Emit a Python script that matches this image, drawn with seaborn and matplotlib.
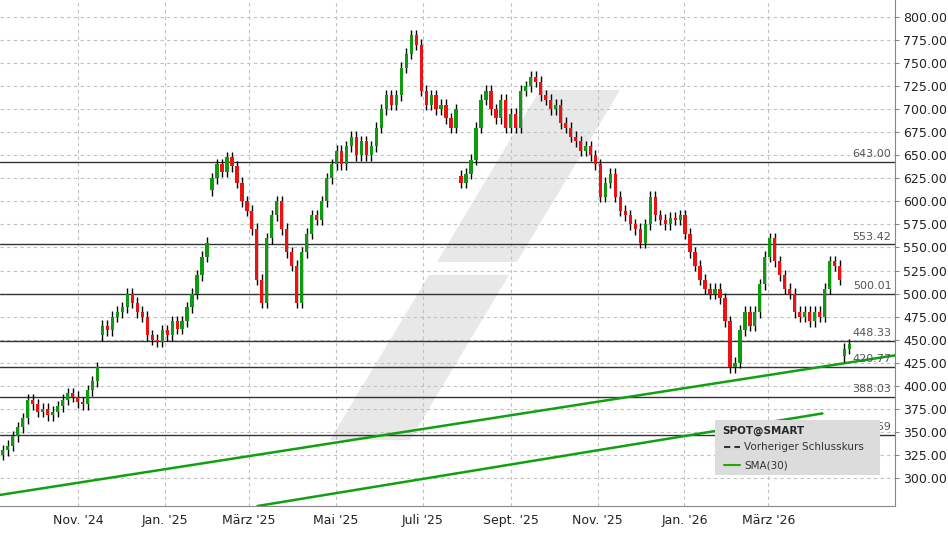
import matplotlib
matplotlib.use("Agg")
import matplotlib.pyplot as plt
import matplotlib.dates as mdates
from matplotlib.patches import Polygon, Rectangle
from matplotlib.lines import Line2D
import seaborn as sns
import pandas as pd
import numpy as np

sns.set_style("white")
plt.rcParams['font.family'] = ['DejaVu Sans']

start_date = "2024-09-09"
closes = [330, 335, 345, 355, 365, 385, 380, 372, 375, 368, 372, 378, 385, 392, 388, 382, 380, 395, 405, 420,
          465, 460, 475, 480, 485, 500, 490, 480, 475, 455, 450, 448, 460, 455, 470, 462, 470, 485, 500, 520,
          540, 555, 625, 640, 632, 648, 638, 620, 600, 590, 570, 515, 490, 560, 585, 600, 570, 545, 530, 490,
          545, 565, 585, 580, 600, 625, 640, 655, 640, 660, 670, 650, 665, 650, 660, 680, 700, 715, 705, 715,
          745, 760, 780, 770, 720, 705, 715, 700, 705, 690, 680, 700, 620, 630, 645, 680, 710, 720, 700, 690,
          710, 680, 695, 680, 720, 725, 735, 730, 715, 710, 700, 705, 685, 680, 670, 665, 655, 660, 650, 640,
          605, 620, 630, 605, 590, 585, 575, 570, 555, 575, 605, 585, 580, 575, 582, 580, 585, 565, 545, 530,
          515, 505, 500, 505, 495, 470, 420, 425, 460, 480, 465, 480, 510, 540, 560, 535, 520, 505, 500, 480,
          475, 480, 470, 480, 475, 505, 535, 530, 515, 440, 445]
first_open = 325
gap_open_index = [20, 42, 92, 169]
gap_open_value = [455, 612, 628, 432]
level_values = [643.00, 553.42, 500.01, 448.33, 420.77, 388.03, 346.69]
trend1_dates = ["2024-09-07", "2026-05-29"]
trend1_values = [281.6, 433.0]
trend2_dates = ["2025-03-07", "2026-04-08"]
trend2_values = [269.6, 370.0]
month_ticks = ["2024-11-01", "2025-01-01", "2025-03-01", "2025-05-01", "2025-07-01", "2025-09-01",
               "2025-11-01", "2026-01-01", "2026-03-01"]
month_labels = ["Nov. '24", "Jan. '25", "März '25", "Mai '25", "Juli '25", "Sept. '25",
                "Nov. '25", "Jan. '26", "März '26"]
y_ticks = list(range(300, 801, 25))

dates = pd.date_range(start_date, periods=len(closes), freq="3.5D")
opens = [first_open] + closes[:-1]
for i, v in zip(gap_open_index, gap_open_value):
    opens[i] = v
df = pd.DataFrame({"date": dates, "open": opens, "close": closes})

fig = plt.figure(figsize=(9.48, 5.34), dpi=100)
ax = fig.add_axes([0.0, 28/534, 895/948, 506/534])

xmin = mdates.date2num(pd.Timestamp("2024-09-07"))
xmax = mdates.date2num(pd.Timestamp("2026-05-29"))
ax.set_xlim(xmin, xmax)
ax.set_ylim(269.6, 818.4)

def px2data(px, py):
    return (xmin + (xmax - xmin) * px / 895, 818.4 - (818.4 - 269.6) * py / 506)
for poly in [[(330, 440), (410, 440), (509, 275), (429, 275)],
             [(437, 262), (517, 262), (620, 90), (540, 90)]]:
    ax.add_patch(Polygon([px2data(*p) for p in poly], closed=True, facecolor="#e8e8e8",
                         edgecolor="none", zorder=0))

for v in y_ticks:
    ax.axhline(v, color="#c0c0c0", ls=(0, (3, 3)), lw=0.8, zorder=1)
for d in month_ticks:
    ax.axvline(mdates.date2num(pd.Timestamp(d)), color="#c0c0c0", ls=(0, (3, 3)), lw=0.8, zorder=1)

for v in level_values:
    ax.axhline(v, color="#333333", lw=1.0, zorder=2)
    ax.text(xmax - 2.5, v + 3, f"{v:.2f}", ha="right", va="bottom", fontsize=8, color="#555555", zorder=5)

tdf = pd.DataFrame({"date": pd.to_datetime(trend1_dates + trend2_dates),
                    "value": trend1_values + trend2_values,
                    "line": ["a", "a", "b", "b"]})
sns.lineplot(data=tdf, x="date", y="value", units="line", estimator=None, color="#11a011",
             lw=1.8, ax=ax, zorder=3)

xs = mdates.date2num(df["date"])
up = df["close"] >= df["open"]
col = np.where(up, "#119911", "#ee1111")
hi = np.maximum(df["open"], df["close"]) + 6
lo = np.minimum(df["open"], df["close"]) - 6
ax.vlines(xs, lo, hi, color="black", lw=1.0, zorder=4)
ax.bar(xs, (df["close"] - df["open"]).abs().clip(lower=2), bottom=np.minimum(df["open"], df["close"]),
       width=2.3, color=col, edgecolor="none", zorder=5)

ax.set_xticks([mdates.date2num(pd.Timestamp(d)) for d in month_ticks])
ax.set_xticklabels(month_labels, fontsize=9, color="#222222")
ax.set_yticks(y_ticks)
ax.set_yticklabels([f"{v:.2f}" for v in y_ticks], fontsize=9, color="#222222")
ax.yaxis.tick_right()
ax.tick_params(axis="both", length=3, color="#888888", pad=3)
ax.set_xlabel("")
ax.set_ylabel("")
for s in ["top", "left"]:
    ax.spines[s].set_visible(False)
for s in ["right", "bottom"]:
    ax.spines[s].set_color("#888888")

ax.add_patch(Rectangle((715/895, 1 - 475/506), 165/895, 55/506, transform=ax.transAxes,
                       facecolor="#dcdcdc", edgecolor="none", zorder=6))
ax.text(722/895, 1 - 431/506, "SPOT@SMART", transform=ax.transAxes, fontsize=7.5, fontweight="bold",
        va="center", zorder=7)
ax.add_line(Line2D([724/895, 740/895], [1 - 447/506] * 2, transform=ax.transAxes, color="#333333",
                   ls=(0, (3, 2)), lw=1.5, zorder=7))
ax.text(744/895, 1 - 447/506, "Vorheriger Schlusskurs", transform=ax.transAxes, fontsize=7.5,
        color="#333333", va="center", zorder=7)
ax.add_line(Line2D([724/895, 740/895], [1 - 465/506] * 2, transform=ax.transAxes, color="#22aa00",
                   lw=1.5, zorder=7))
ax.text(744/895, 1 - 465/506, "SMA(30)", transform=ax.transAxes, fontsize=7.5,
        color="#333333", va="center", zorder=7)

fig.savefig("out.png", dpi=100)
